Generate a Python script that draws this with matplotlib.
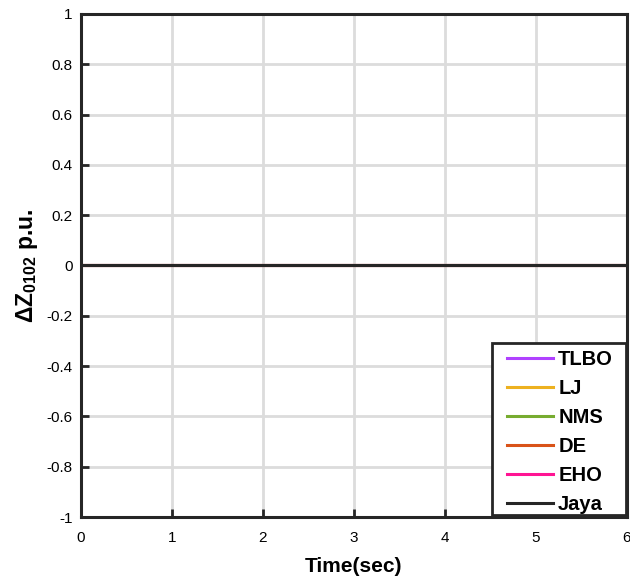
import matplotlib.pyplot as plt
import numpy as np
from matplotlib.patches import Rectangle
from matplotlib.transforms import IdentityTransform

plt.rcParams['font.family'] = ['Liberation Sans', 'DejaVu Sans']
plt.rcParams['mathtext.fontset'] = 'custom'
plt.rcParams['mathtext.bf'] = 'Liberation Sans:bold'
plt.rcParams['mathtext.rm'] = 'Liberation Sans'

# time axis (sec) and deviation of each controller, all flat at zero
time = [0, 1, 2, 3, 4, 5, 6]
tlbo = [0, 0, 0, 0, 0, 0, 0]
lj = [0, 0, 0, 0, 0, 0, 0]
nms = [0, 0, 0, 0, 0, 0, 0]
de = [0, 0, 0, 0, 0, 0, 0]
eho = [0, 0, 0, 0, 0, 0, 0]
jaya = [0, 0, 0, 0, 0, 0, 0]

names = ['TLBO', 'LJ', 'NMS', 'DE', 'EHO', 'Jaya']
colors = ['#B041FF', '#EDB120', '#77AC30', '#D95319', '#FF1493', '#262626']

xticks = [0, 1, 2, 3, 4, 5, 6]
yticks = [-1, -0.8, -0.6, -0.4, -0.2, 0, 0.2, 0.4, 0.6, 0.8, 1]
yticklabels = ['-1', '-0.8', '-0.6', '-0.4', '-0.2', '0', '0.2', '0.4', '0.6', '0.8', '1']

fig = plt.figure(figsize=(6.3, 5.8), dpi=100)
ax = fig.add_axes([0.1286, 0.1086, 0.8664, 0.8673])

for series, name, color in zip([tlbo, lj, nms, de, eho, jaya], names, colors):
    ax.plot(time, series, color=color, linewidth=2.2, label=name)

ax.set_xlim(0, 6)
ax.set_ylim(-1, 1)
ax.set_xticks(xticks)
ax.set_yticks(yticks)
ax.set_yticklabels(yticklabels)
ax.grid(True, color='#DCDCDC', linewidth=2)
ax.set_axisbelow(True)
ax.tick_params(direction='in', length=6, width=2, colors='#262626', labelsize=11)
ax.tick_params(axis='x', pad=10)
ax.tick_params(axis='y', pad=6)
ax.tick_params(labelcolor='black')
for s in ax.spines.values():
    s.set_linewidth(2.2)
    s.set_color('#262626')

ax.set_xlabel('Time(sec)', fontsize=15, fontweight='bold', labelpad=9)
ax.set_ylabel(r'$\mathbf{\Delta Z_{0102}}$ p.u.', fontsize=16.5, fontweight='bold', labelpad=5)

# legend without its own frame; a wider box is drawn behind it (MATLAB-like padding)
leg = ax.legend(loc='lower right', bbox_to_anchor=(0.984, -0.004), borderaxespad=0,
                prop={'weight': 'bold', 'size': 14.5}, frameon=False, handlelength=2.3,
                handletextpad=0.25, labelspacing=0.5, borderpad=0.25)
leg.set_zorder(6)

fig.canvas.draw()
bb = leg.get_window_extent()
box = Rectangle((bb.x0 - 10, bb.y0 + 4), bb.width + 18, bb.height - 2,
                transform=IdentityTransform(), facecolor='white', edgecolor='#262626',
                linewidth=2, zorder=5.5, clip_on=False)
ax.add_artist(box)

fig.savefig('out.png', dpi=100)
